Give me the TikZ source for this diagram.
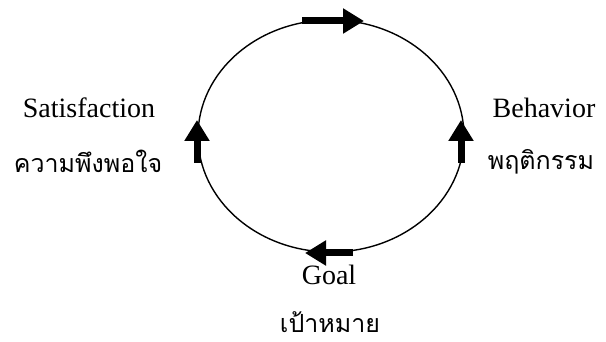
\documentclass[tikz,border=0pt]{standalone}
\usepackage{fontspec}
\setmainfont{Liberation Serif}
\newfontfamily\thaifont[Script=Thai]{Loma}
\usetikzlibrary{arrows.meta}
\tikzset{
  cyc/.style={line width=1.4pt},
  fatarrow/.style={line width=7pt,-{Triangle[length=21pt,width=24pt]}},
  entxt/.style={font=\fontsize{28}{32}\selectfont, inner sep=0pt, anchor=base},
  thtxt/.style={font=\thaifont\fontsize{25}{30}\selectfont, inner sep=0pt, anchor=base}
}
\begin{document}
\begin{tikzpicture}[x=1pt,y=-1pt]
\useasboundingbox (0,0) rectangle (606,342);
\draw[cyc] (331,136) ellipse [x radius=133, y radius=116];
\coordinate (ta) at (302,21);
\coordinate (tb) at (364,21);
\coordinate (ba) at (353,253);
\coordinate (bb) at (305,253);
\coordinate (la) at (197,163);
\coordinate (lb) at (197,120);
\coordinate (ra) at (461,163);
\coordinate (rb) at (461,120);
\draw[fatarrow] (ta) -- (tb);
\draw[fatarrow] (ba) -- (bb);
\draw[fatarrow] (la) -- (lb);
\draw[fatarrow] (ra) -- (rb);
\node[entxt] (sat) at (89,118) {Satisfaction};
\node[thtxt] (satth) at (88,173) {ความพึงพอใจ};
\node[entxt] (beh) at (544,118) {Behavior};
\node[thtxt] (behth) at (541,170) {พฤติกรรม};
\node[entxt] (goal) at (329,285) {Goal};
\node[thtxt] (goalth) at (330,332) {เป้าหมาย};
\end{tikzpicture}
\end{document}
